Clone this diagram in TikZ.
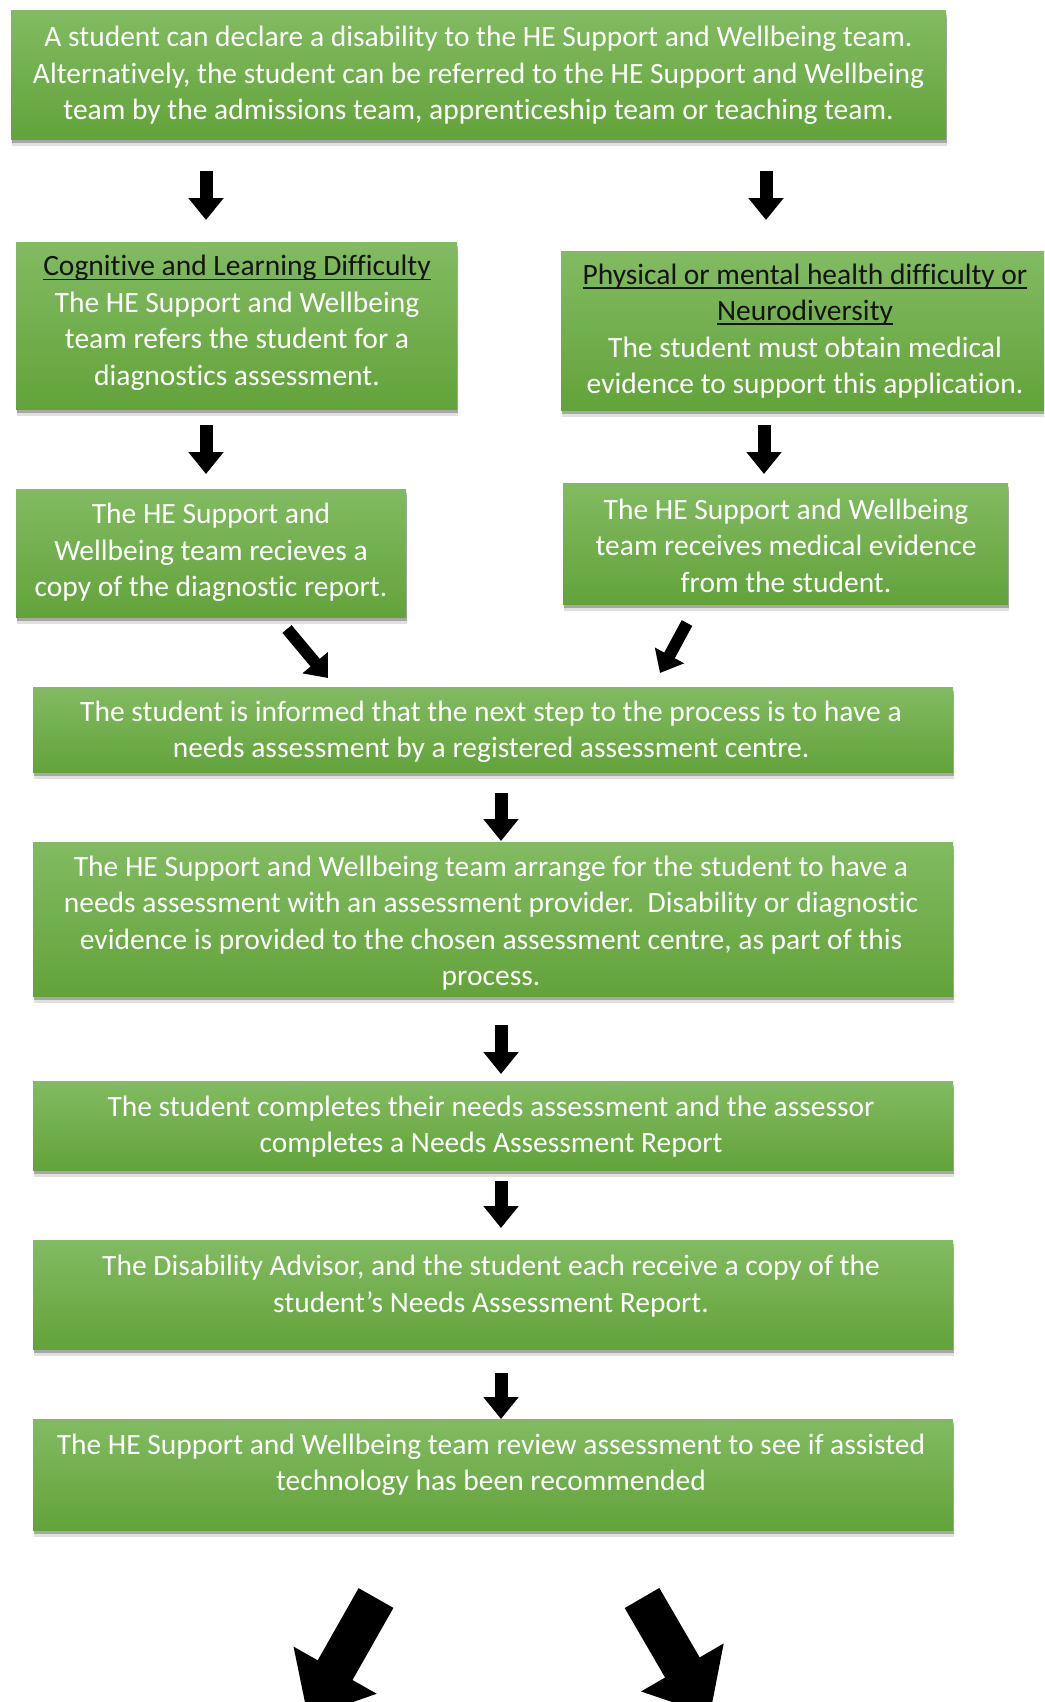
\documentclass[tikz,border=0pt]{standalone}
\usepackage{fontspec}
\setmainfont{Carlito}[Ligatures=CommonOff]
\usetikzlibrary{arrows.meta,shadows}

\definecolor{boxtop}{HTML}{82BB62}
\definecolor{boxbot}{HTML}{62A33A}
\definecolor{headink}{HTML}{141414}
% dark heading text with a rule underneath
\newcommand{\headline}[1]{{\color{headink}\setbox0=\hbox{#1}\rlap{\rule[-4.5pt]{\wd0}{1.8pt}}\box0}}

\tikzset{
  stepbox/.style={rectangle, draw=none, inner sep=0pt,
    top color=boxtop, bottom color=boxbot,
    drop shadow={shadow xshift=1pt, shadow yshift=-7pt, opacity=0.12, fill=black},
    drop shadow={shadow xshift=1pt, shadow yshift=-4pt, opacity=0.25, fill=black}},
  boxtext/.style={align=center, text=white, inner sep=0pt,
    font=\fontsize{29.5}{36.5}\selectfont},
  downarrow/.style={draw=black, line width=13pt, -{Triangle[width=34pt,length=22pt]}},
  slantarrow/.style={draw=black, line width=12pt, -{Triangle[width=32pt,length=20pt]}},
  bigarrow/.style={draw=black, line width=40pt, -{Triangle[width=92pt,length=55pt]}}
}

\begin{document}
\begin{tikzpicture}[x=1pt, y=-1pt]
\clip (0,0) rectangle (1044,1702);
\fill[white] (0,0) rectangle (1044,1702);

% boxes
\node[stepbox, minimum width=935, minimum height=128] (b1)  at (478.5,75) {};
\node[stepbox, minimum width=441, minimum height=167] (b2l) at (236.5,325.5) {};
\node[stepbox, minimum width=488, minimum height=159] (b2r) at (805,330.5) {};
\node[stepbox, minimum width=390, minimum height=128] (b3l) at (211,553) {};
\node[stepbox, minimum width=445, minimum height=121] (b3r) at (785.5,543.5) {};
\node[stepbox, minimum width=920, minimum height=85]  (b4)  at (493,729.5) {};
\node[stepbox, minimum width=920, minimum height=154] (b5)  at (493,919) {};
\node[stepbox, minimum width=920, minimum height=89]  (b6)  at (493,1125.5) {};
\node[stepbox, minimum width=920, minimum height=109] (b7)  at (493,1294.5) {};
\node[stepbox, minimum width=920, minimum height=111] (b8)  at (493,1474.5) {};

% texts
\node[boxtext] (t1) at (478.5,75.5) {A student can declare a disability to the HE Support and Wellbeing team.\\
  Alternatively, the student can be referred to the HE Support and Wellbeing\\
  team by the admissions team, apprenticeship team or teaching team.};
\node[boxtext] (t2l) at (237,323) {\headline{Cognitive and Learning Difficulty}\\
  The HE Support and Wellbeing\\ team refers the student for a\\ diagnostics assessment.};
\node[boxtext] (t2r) at (805,331) {\headline{Physical or mental health difficulty or}\\
  \headline{Neurodiversity}\\ The student must obtain medical\\ evidence to support this application.};
\node[boxtext] (t3l) at (211,552.5) {The HE Support and\\ Wellbeing team recieves a\\ copy of the diagnostic report.};
\node[boxtext] (t3r) at (786,545.5) {The HE Support and Wellbeing\\ team receives medical evidence\\ from the student.};
\node[boxtext] (t4) at (491,732) {The student is informed that the next step to the process is to have a\\
  needs assessment by a registered assessment centre.};
\node[boxtext] (t5) at (491,923) {The HE Support and Wellbeing team arrange for the student to have a\\
  needs assessment with an assessment provider.\ \ Disability or diagnostic\\
  evidence is provided to the chosen assessment centre, as part of this\\ process.};
\node[boxtext] (t6) at (491,1126.5) {The student completes their needs assessment and the assessor\\
  completes a Needs Assessment Report};
\node[boxtext] (t7) at (491,1286) {The Disability Advisor, and the student each receive a copy of the\\
  student’s Needs Assessment Report.};
\node[boxtext] (t8) at (491,1465) {The HE Support and Wellbeing team review assessment to see if assisted\\
  technology has been recommended};

% arrow end points
\coordinate (a1s) at (206,171);  \coordinate (a1e) at (206,220);
\coordinate (a2s) at (766,171);  \coordinate (a2e) at (766,220);
\coordinate (a3s) at (206,425);  \coordinate (a3e) at (206,474);
\coordinate (a4s) at (764,425);  \coordinate (a4e) at (764,474);
\coordinate (a5s) at (287,629);  \coordinate (a5e) at (328,678);
\coordinate (a6s) at (687,623);  \coordinate (a6e) at (660,673);
\coordinate (a7s) at (501,793);  \coordinate (a7e) at (501,841);
\coordinate (a8s) at (501,1025); \coordinate (a8e) at (501,1074);
\coordinate (a9s) at (501,1181); \coordinate (a9e) at (501,1228);
\coordinate (a10s) at (501,1373); \coordinate (a10e) at (501,1419);
\coordinate (a11s) at (376,1598); \coordinate (a11e) at (308,1718);
\coordinate (a12s) at (642,1598); \coordinate (a12e) at (710,1715);

% arrows
\draw[downarrow] (a1s) -- (a1e);
\draw[downarrow] (a2s) -- (a2e);
\draw[downarrow] (a3s) -- (a3e);
\draw[downarrow] (a4s) -- (a4e);
\draw[slantarrow] (a5s) -- (a5e);
\draw[slantarrow] (a6s) -- (a6e);
\draw[downarrow] (a7s) -- (a7e);
\draw[downarrow] (a8s) -- (a8e);
\draw[downarrow] (a9s) -- (a9e);
\draw[downarrow] (a10s) -- (a10e);
\draw[bigarrow] (a11s) -- (a11e);
\draw[bigarrow] (a12s) -- (a12e);
\end{tikzpicture}
\end{document}
